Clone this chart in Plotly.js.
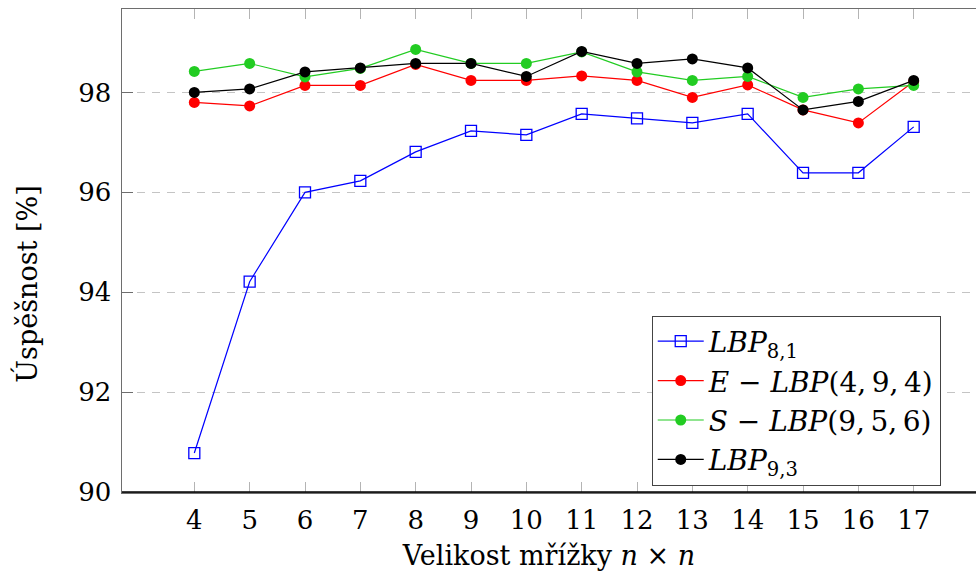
<!DOCTYPE html>
<html>
<head>
<meta charset="utf-8">
<script src="https://cdn.plot.ly/plotly-3.0.1.min.js"></script>
<style>
  html, body { margin: 0; padding: 0; background: #fff; }
  #chart { width: 976px; height: 575px; }
</style>
</head>
<body>
<div id="chart"></div>
<script>
// Grid size n (n x n) and recognition success rate [%] per descriptor
const gridSize = [4, 5, 6, 7, 8, 9, 10, 11, 12, 13, 14, 15, 16, 17];
const lbp81  = [90.78, 94.21, 96.00, 96.23, 96.81, 97.23, 97.15, 97.57, 97.48, 97.39, 97.57, 96.39, 96.39, 97.31];
const eLbp   = [97.80, 97.73, 98.14, 98.14, 98.56, 98.24, 98.24, 98.33, 98.24, 97.90, 98.15, 97.65, 97.39, 98.22];
const sLbp   = [98.42, 98.58, 98.31, 98.48, 98.86, 98.58, 98.58, 98.81, 98.41, 98.24, 98.32, 97.90, 98.07, 98.14];
const lbp93  = [98.00, 98.07, 98.41, 98.49, 98.58, 98.58, 98.32, 98.82, 98.58, 98.67, 98.49, 97.65, 97.82, 98.24];
const yTicks = [90, 92, 94, 96, 98];

const seriesNames = [
  '<i>LBP</i><sub>8,1</sub>',
  '<i>E</i> − <i>LBP</i>(4,\u20099,\u20094)',
  '<i>S</i> − <i>LBP</i>(9,\u20095,\u20096)',
  '<i>LBP</i><sub>9,3</sub>'
];

const FONT = '"DejaVu Serif", serif';
const FS = 26;

function series(y, name, color, symbol) {
  const open = symbol === 'square-open';
  return {
    x: gridSize, y: y, name: name, type: 'scatter', mode: 'lines+markers',
    line: { color: color, width: 1.2 },
    marker: open
      ? { symbol: symbol, size: 11, color: color, line: { color: color, width: 1.3 } }
      : { symbol: symbol, size: 11, color: color, line: { width: 0 } },
    cliponaxis: false
  };
}

const data = [
  series(lbp81, seriesNames[0], '#0000ff', 'square-open'),
  series(eLbp,  seriesNames[1], '#ff0000', 'circle'),
  series(sLbp,  seriesNames[2], '#22cc22', 'circle'),
  series(lbp93, seriesNames[3], '#000000', 'circle')
];

const layout = {
  width: 976, height: 575,
  margin: { l: 122, r: 0, t: 9, b: 83 },
  paper_bgcolor: '#ffffff', plot_bgcolor: '#ffffff',
  font: { family: FONT, size: FS, color: '#000' },
  showlegend: true,
  legend: {
    x: 0.6203, y: 0.3654, xanchor: 'left', yanchor: 'top',
    bgcolor: '#ffffff', bordercolor: '#444444', borderwidth: 1,
    font: { family: FONT, size: 28, color: '#000' },
    itemwidth: 46,
    tracegroupgap: 0
  },
  xaxis: {
    range: [2.693, 18.126],
    tickmode: 'array', tickvals: gridSize, ticktext: gridSize.map(String),
    ticks: 'inside', ticklen: 10, tickwidth: 1, tickcolor: '#b4b4b4',
    showline: true, linecolor: '#6e6e6e', linewidth: 1.5, mirror: 'ticks',
    showgrid: false, zeroline: false,
    tickfont: { family: FONT, size: FS, color: '#000' },
    ticklabelstandoff: 4,
    title: { text: 'Velikost mřížky <i>n</i> × <i>n</i>', font: { family: FONT, size: 27, color: '#000' }, standoff: 12 }
  },
  yaxis: {
    range: [90, 99.67],
    tickmode: 'array', tickvals: yTicks, ticktext: yTicks.map(String),
    ticks: 'inside', ticklen: 11, tickwidth: 1, tickcolor: '#6e6e6e',
    showline: true, linecolor: '#6e6e6e', linewidth: 1.5, mirror: false,
    showgrid: true, gridcolor: '#c4c4c4', gridwidth: 1, griddash: '8px,7px',
    zeroline: false,
    tickfont: { family: FONT, size: FS, color: '#000' },
    ticklabelstandoff: 4
  },
  shapes: [
    { type: 'line', xref: 'paper', yref: 'paper', x0: 0, x1: 1, y0: 0, y1: 0,
      line: { color: '#000', width: 1.5 }, layer: 'above' }
  ],
  annotations: [
    { text: 'Úspěšnost [%]', xref: 'paper', yref: 'paper', x: -0.112, y: 0.43,
      xanchor: 'center', yanchor: 'middle', textangle: -90, showarrow: false,
      font: { family: FONT, size: 27, color: '#000' } }
  ]
};

Plotly.newPlot('chart', data, layout, { staticPlot: true, displayModeBar: false });
</script>
</body>
</html>
